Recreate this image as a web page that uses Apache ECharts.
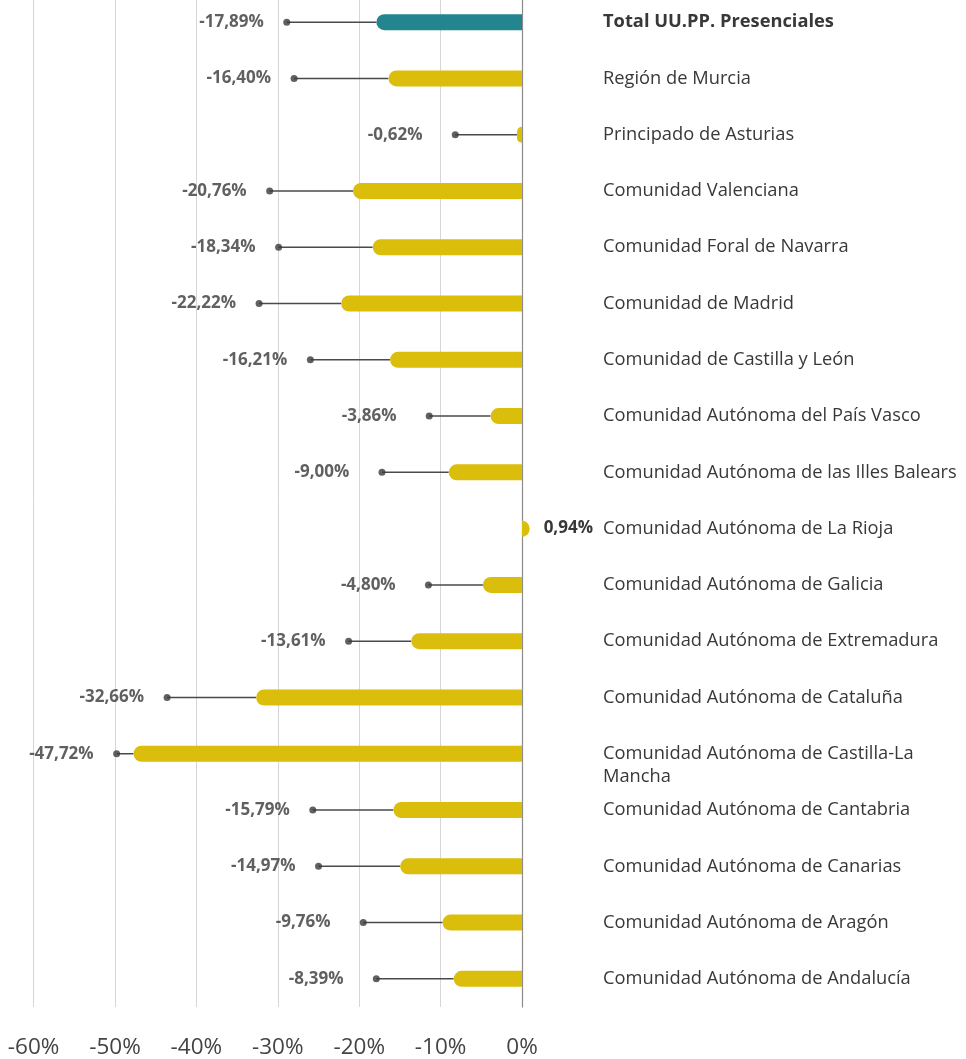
<!DOCTYPE html>
<html>
<head>
<meta charset="utf-8">
<script src="https://cdn.jsdelivr.net/npm/echarts@6/dist/echarts.min.js"></script>
<style>
  html, body { margin: 0; padding: 0; background: #fff; overflow: hidden; }
  #chart { position: absolute; left: 0; top: -6px; width: 966px; height: 1065px; }
</style>
</head>
<body>
<div id="chart"></div>
<script>
const categories = [
  'Total UU.PP. Presenciales',
  'Región de Murcia',
  'Principado de Asturias',
  'Comunidad Valenciana',
  'Comunidad Foral de Navarra',
  'Comunidad de Madrid',
  'Comunidad de Castilla y León',
  'Comunidad Autónoma del País Vasco',
  'Comunidad Autónoma de las Illes Balears',
  'Comunidad Autónoma de La Rioja',
  'Comunidad Autónoma de Galicia',
  'Comunidad Autónoma de Extremadura',
  'Comunidad Autónoma de Cataluña',
  'Comunidad Autónoma de Castilla-La Mancha',
  'Comunidad Autónoma de Cantabria',
  'Comunidad Autónoma de Canarias',
  'Comunidad Autónoma de Aragón',
  'Comunidad Autónoma de Andalucía'
];
const barValues = [-17.89, -16.40, -0.62, -20.76, -18.34, -22.22, -16.21, -3.86, -9.00, 0.94, -4.80, -13.61, -32.66, -47.72, -15.79, -14.97, -9.76, -8.39];
const dotValues = [-28.9, -28.0, -8.2, -31.0, -29.9, -32.3, -26.0, -11.4, -17.2, null, -11.5, -21.3, -43.6, -49.8, -25.7, -25.0, -19.5, -17.9];
const xTicks = { min: -60, max: 0, interval: 10 };

const TEAL = '#23868e';
const YELLOW = '#dbbd0b';
const TEXT = '#383838';
const FONT = '"Open Sans", "Noto Sans", sans-serif';
const CAT_SIZE = 18.3;
const CAT_MAX_W = 362;
const fmt = v => v.toFixed(2).replace('.', ',') + '%';

// greedy word wrap measured with the same font
const measureCtx = document.createElement('canvas').getContext('2d');
function wrapLabel(text, bold) {
  measureCtx.font = (bold ? 'bold ' : '') + CAT_SIZE + 'px ' + FONT;
  const words = text.split(' ');
  const lines = [];
  let cur = '';
  words.forEach(w => {
    const test = cur ? cur + ' ' + w : w;
    if (cur && measureCtx.measureText(test).width > CAT_MAX_W) {
      lines.push(cur);
      cur = w;
    } else {
      cur = test;
    }
  });
  if (cur) lines.push(cur);
  return lines.join('\n');
}

const chart = echarts.init(document.getElementById('chart'));
chart.setOption({
  animation: false,
  backgroundColor: '#fff',
  grid: { left: 33.6, right: 444, top: 0, bottom: 46, containLabel: false },
  xAxis: {
    type: 'value',
    min: xTicks.min, max: xTicks.max, interval: xTicks.interval,
    axisLine: { show: false },
    axisTick: { show: false },
    axisLabel: {
      margin: 29, color: '#444', fontSize: 22.5, fontFamily: FONT,
      formatter: v => v + '%'
    },
    splitLine: { show: true, lineStyle: { color: '#d6d6d6', width: 1 } }
  },
  yAxis: {
    type: 'category',
    data: categories,
    inverse: true,
    position: 'right',
    axisLine: { show: true, onZero: false, lineStyle: { color: '#8c8c8c', width: 1.2 } },
    axisTick: { show: false },
    axisLabel: { show: false },
    splitLine: { show: false }
  },
  series: [
    {
      type: 'custom',
      z: 1,
      silent: true,
      encode: { x: [0, 1], y: 2 },
      data: categories.map((c, i) => [dotValues[i] == null ? NaN : dotValues[i], barValues[i], i]),
      renderItem: (params, api) => {
        const d = api.value(0);
        if (isNaN(d)) return null;
        const p1 = api.coord([d, api.value(2)]);
        const p2 = api.coord([api.value(1), api.value(2)]);
        return {
          type: 'line',
          shape: { x1: p1[0], y1: p1[1], x2: p2[0], y2: p2[1] },
          style: { stroke: '#4a4a4a', lineWidth: 1.5 }
        };
      }
    },
    {
      type: 'bar',
      z: 2,
      clip: false,
      barWidth: 16,
      data: barValues.map(v => ({
        value: v,
        itemStyle: { borderRadius: v < 0 ? [8, 0, 0, 8] : [0, 8, 8, 0] }
      })),
      itemStyle: { color: p => (p.dataIndex === 0 ? TEAL : YELLOW) },
      label: {
        show: true,
        position: 'right',
        distance: 14,
        color: TEXT, fontWeight: 'bold', fontSize: 17, fontFamily: FONT,
        formatter: p => (p.value > 0 ? fmt(p.value) : '')
      }
    },
    {
      type: 'scatter',
      z: 3,
      symbol: 'circle',
      symbolSize: 7,
      itemStyle: { color: '#3a3a3a' },
      data: dotValues.map((d, i) => (d == null ? [NaN, i] : [d, i])),
      label: {
        show: true,
        position: [-84, 3.5],
        align: 'left',
        verticalAlign: 'middle',
        color: TEXT, fontWeight: 'bold', fontSize: 17, fontFamily: FONT,
        formatter: p => fmt(barValues[p.dataIndex])
      }
    },
    {
      type: 'custom',
      z: 4,
      silent: true,
      encode: { x: 0, y: 1 },
      data: categories.map((c, i) => [0, i]),
      renderItem: (params, api) => {
        const i = api.value(1);
        const p = api.coord([0, i]);
        return {
          type: 'text',
          x: p[0] + 81,
          y: p[1] - 11.5,
          style: {
            text: wrapLabel(categories[i], i === 0),
            fill: TEXT,
            fontSize: CAT_SIZE,
            fontFamily: FONT,
            fontWeight: i === 0 ? 'bold' : 'normal',
            lineHeight: 23,
            align: 'left',
            verticalAlign: 'top'
          }
        };
      }
    }
  ]
});
</script>
</body>
</html>
